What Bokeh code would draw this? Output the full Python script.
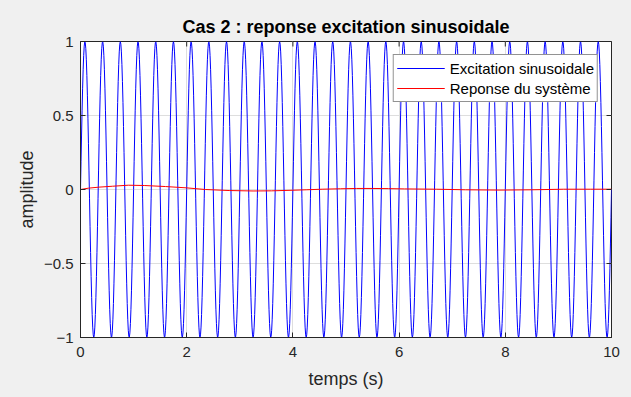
import numpy as np
from bokeh.plotting import figure
from bokeh.models import Range1d, Legend, LegendItem, FixedTicker
from bokeh.embed import file_html
from bokeh.resources import INLINE

# ---- data ----
title_text = "Cas 2 : reponse excitation sinusoidale"
x_label = "temps (s)"
y_label = "amplitude"
legend_labels = ["Excitation sinusoidale", "Reponse du système"]

# excitation: unit sine at 3 Hz sampled every 0.01 s over 0..10 s
exc_freq_hz = 3.0
exc_amplitude = 1.0
t_exc = np.arange(0, 10.0001, 0.01)
y_exc = exc_amplitude * np.sin(2 * np.pi * exc_freq_hz * t_exc)

# system response
t_resp = [0.0, 0.15, 0.35, 0.6, 0.9, 1.2, 1.6, 2.0, 2.35, 2.8, 3.25, 3.6, 4.0, 4.25,
          4.55, 4.9, 5.2, 5.5, 5.8, 6.1, 6.7, 7.25, 7.9, 8.5, 9.1, 9.6, 10.0]
y_resp = [0.0, 0.009, 0.016, 0.022, 0.029, 0.027, 0.02, 0.011, 0.0, -0.007, -0.01,
          -0.009, -0.005, -0.002, 0.002, 0.005, 0.007, 0.007, 0.006, 0.004, 0.002,
          -0.002, -0.004, -0.002, 0.002, 0.002, 0.002]

x_ticks = [0, 2, 4, 6, 8, 10]
y_ticks = [-1, -0.5, 0, 0.5, 1]

# ---- figure ----
FONT = "Liberation Sans"
TXT = "#262626"

p = figure(width=631, height=397, output_backend="svg", toolbar_location=None,
           x_range=Range1d(x_ticks[0], x_ticks[-1]), y_range=Range1d(y_ticks[0], y_ticks[-1]),
           min_border_left=80, min_border_right=20, min_border_top=41, min_border_bottom=60)
p.background_fill_color = "white"
p.border_fill_color = "#f0f0f0"
p.outline_line_color = TXT
p.outline_line_width = 1

p.title.text = title_text
p.title.align = "center"
p.title.text_font = FONT
p.title.text_font_size = "18px"
p.title.text_font_style = "bold"
p.title.text_color = "black"

for g, ticks in ((p.xgrid[0], x_ticks), (p.ygrid[0], y_ticks)):
    g.ticker = FixedTicker(ticks=ticks)
    g.grid_line_color = "#dedede"
    g.grid_line_width = 1

r_exc = p.line(t_exc, y_exc, line_color="#0000ff", line_width=1)
r_resp = p.line(t_resp, y_resp, line_color="#ff0000", line_width=1)

for ax, ticks in ((p.xaxis[0], x_ticks), (p.yaxis[0], y_ticks)):
    ax.ticker = FixedTicker(ticks=ticks)
    ax.major_tick_in = 5
    ax.major_tick_out = 0
    ax.minor_tick_line_color = None
    ax.axis_line_color = TXT
    ax.major_tick_line_color = TXT
    ax.major_label_text_font = FONT
    ax.major_label_text_font_size = "15px"
    ax.major_label_text_color = TXT
    ax.axis_label_text_font = FONT
    ax.axis_label_text_font_size = "18px"
    ax.axis_label_text_font_style = "normal"
    ax.axis_label_text_color = TXT

p.xaxis[0].axis_label = x_label
p.yaxis[0].axis_label = y_label
p.xaxis[0].major_label_standoff = 9
p.yaxis[0].major_label_standoff = 7
p.xaxis[0].axis_label_standoff = 9
p.yaxis[0].axis_label_standoff = 4

# mirrored tick marks on the top and right edges (box on), clipped to the frame
p.scatter(x_ticks, [y_ticks[-1]] * len(x_ticks), marker="dash", angle=np.pi / 2,
          size=10, line_color=TXT, line_width=1)
p.scatter([x_ticks[-1]] * len(y_ticks), y_ticks, marker="dash",
          size=10, line_color=TXT, line_width=1)

legend = Legend(items=[LegendItem(label=legend_labels[0], renderers=[r_exc]),
                       LegendItem(label=legend_labels[1], renderers=[r_resp])],
                location="top_right")
legend.margin = 13
legend.padding = 3
legend.spacing = 0
legend.label_height = 20
legend.glyph_height = 20
legend.glyph_width = 48
legend.label_standoff = 5
legend.label_text_font = FONT
legend.label_text_font_size = "15px"
legend.label_text_color = "black"
legend.border_line_color = TXT
legend.border_line_width = 1
legend.background_fill_color = "white"
legend.background_fill_alpha = 1
p.add_layout(legend, "center")

html = file_html(p, INLINE)
html = html.replace("<head>", "<head><style>html,body{background:#f0f0f0;}</style>", 1)
open("out.html", "w").write(html)
